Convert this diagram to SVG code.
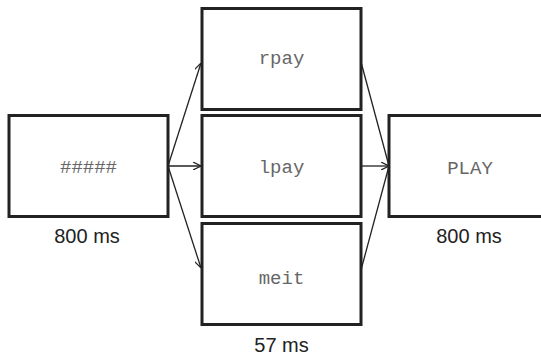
<svg xmlns="http://www.w3.org/2000/svg" width="541" height="355" viewBox="0 0 541 355">
<style>
.box{fill:#fff;stroke:#222;stroke-width:3}
.mono{font-family:"Liberation Mono","Courier New",monospace;font-size:19px;fill:#666;text-anchor:middle}
.lab{font-family:"Liberation Sans",Arial,sans-serif;font-size:20px;fill:#222;text-anchor:middle}
.conn{stroke:#222;stroke-width:1.3;fill:none;marker-end:url(#ah)}
.line{stroke:#222;stroke-width:1.3;fill:none}
</style>
<defs>
<marker id="ah" viewBox="0 0 10 10" refX="10" refY="5" markerWidth="8" markerHeight="8" markerUnits="userSpaceOnUse" orient="auto">
<path d="M0,0 L10,5 L0,10" fill="none" stroke="#222" stroke-width="1.5"/>
</marker>
</defs>
<rect width="541" height="355" fill="#fff"/>
<g id="connectors">
<line class="conn" x1="168" y1="166" x2="201" y2="63"/>
<line class="conn" x1="168" y1="166" x2="201" y2="166"/>
<line class="conn" x1="168" y1="166" x2="201" y2="268"/>
<line class="line" x1="361" y1="62" x2="389" y2="166"/>
<line class="conn" x1="361" y1="166" x2="389" y2="166"/>
<line class="line" x1="361" y1="270" x2="389" y2="166"/>
</g>
<g id="fixation">
<rect class="box" x="9" y="115.5" width="159" height="101"/>
<text class="mono" x="88.5" y="173">#####</text>
<text class="lab" x="87" y="243">800 ms</text>
</g>
<g id="rpay">
<rect class="box" x="202" y="8.5" width="159" height="101"/>
<text class="mono" x="281.5" y="64">rpay</text>
</g>
<g id="lpay">
<rect class="box" x="202" y="115.5" width="159" height="101"/>
<text class="mono" x="281.5" y="173">lpay</text>
</g>
<g id="meit">
<rect class="box" x="202" y="223.5" width="159" height="101"/>
<text class="mono" x="281.5" y="284">meit</text>
<text class="lab" x="281.5" y="352">57 ms</text>
</g>
<g id="play">
<rect class="box" x="389" y="115.5" width="160" height="101"/>
<text class="mono" x="470" y="174">PLAY</text>
<text class="lab" x="469" y="243">800 ms</text>
</g>
</svg>
